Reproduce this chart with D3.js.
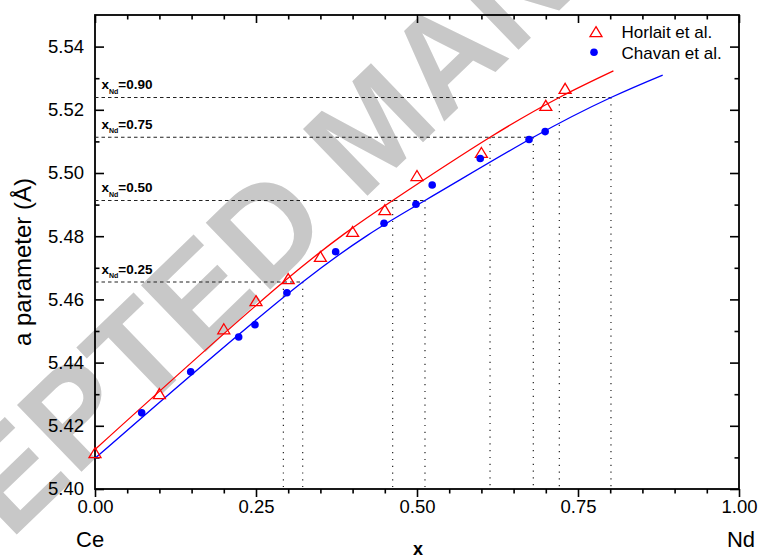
<!DOCTYPE html>
<html>
<head>
<meta charset="utf-8">
<script src="https://cdn.jsdelivr.net/npm/d3@7.9.0/dist/d3.min.js"></script>
<style>
  html, body { margin: 0; padding: 0; background: #fff; }
  svg { display: block; font-family: "Liberation Sans", Arial, sans-serif; }
</style>
</head>
<body>
<svg id="chart" width="759" height="557"></svg>
<script>
// Horlait et al. (open red triangles)
const horlaitX = [0, 0.10, 0.20, 0.25, 0.30, 0.35, 0.40, 0.45, 0.50, 0.60, 0.70, 0.73];
const horlaitA = [5.4115, 5.4302, 5.4507, 5.4596, 5.4666, 5.4736, 5.4815, 5.4884, 5.4992, 5.5065, 5.5214, 5.5268];

// Chavan et al. (filled blue circles)
const chavanX = [0.0725, 0.1486, 0.2231, 0.2484, 0.2980, 0.3737, 0.4488, 0.4984, 0.5236, 0.5982, 0.6740, 0.6990];
const chavanA = [5.4241, 5.4371, 5.4481, 5.4520, 5.4621, 5.4751, 5.4841, 5.4901, 5.4962, 5.5046, 5.5106, 5.5131];

// fitted curves
const horlaitFitX = [0, 0.2925, 0.4622, 0.6134, 0.7210, 0.805];
const horlaitFitA = [5.4125, 5.4655, 5.4913, 5.5113, 5.5239, 5.5323];
const chavanFitX = [0, 0.3225, 0.5124, 0.6806, 0.8012, 0.8815];
const chavanFitA = [5.4097, 5.4655, 5.4913, 5.5113, 5.5239, 5.5310];

// x_Nd guide levels
const levelLabels = ['0.25', '0.50', '0.75', '0.90'];
const levelA = [5.4655, 5.4913, 5.5113, 5.5239];
const levelXRed = [0.2925, 0.4622, 0.6134, 0.7210];
const levelXBlue = [0.3225, 0.5124, 0.6806, 0.8012];

// ticks
const xMajor = [0, 0.25, 0.5, 0.75, 1.0];
const yMajor = [5.40, 5.42, 5.44, 5.46, 5.48, 5.50, 5.52, 5.54];

const svg = d3.select('#chart');
const mLeft = 95, mRight = 739, mTop = 15, mBottom = 489;

const x = d3.scaleLinear().domain([0, 1]).range([mLeft, mRight]);
const y = d3.scaleLinear().domain([5.40, 5.55]).range([mBottom, mTop]);

// watermark
const wm = svg.append('g')
  .attr('transform', 'translate(334,228) rotate(-44)')
  .attr('fill', '#c8c8c8')
  .attr('font-weight', 'bold')
  .attr('font-size', 135);
wm.append('text').attr('text-anchor', 'end').text('ACCEPTED');
wm.append('text').attr('x', 37.5).text('MANUSCRIPT');

// minor tick positions
const xMinor = d3.range(0, 1.0001, 0.05).filter(v => !xMajor.some(m => Math.abs(m - v) < 1e-6));
const yMinor = d3.range(5.40, 5.5501, 0.01).filter(v => !yMajor.some(m => Math.abs(m - v) < 1e-6) && v < 5.5499);

function styleAxis(g) {
  g.select('.domain').remove();
  g.selectAll('line').attr('stroke', '#000').attr('stroke-width', 1.6);
  g.selectAll('text').attr('fill', '#000').attr('font-size', 18.5).attr('font-family', '"Liberation Sans", Arial, sans-serif');
}

// bottom axis (outward ticks, labels)
svg.append('g').attr('transform', `translate(0,${mBottom})`)
  .call(d3.axisBottom(x).tickValues(xMajor).tickSize(8).tickPadding(3).tickFormat(d3.format('.2f')))
  .call(styleAxis);
svg.append('g').attr('transform', `translate(0,${mBottom})`)
  .call(d3.axisBottom(x).tickValues(xMinor).tickSize(4.5).tickFormat(''))
  .call(styleAxis);

// top axis (inward)
svg.append('g').attr('transform', `translate(0,${mTop})`)
  .call(d3.axisTop(x).tickValues(xMajor).tickSize(-8).tickFormat(''))
  .call(styleAxis);
svg.append('g').attr('transform', `translate(0,${mTop})`)
  .call(d3.axisTop(x).tickValues(xMinor).tickSize(-4.5).tickFormat(''))
  .call(styleAxis);

// left axis (inward ticks, labels)
svg.append('g').attr('transform', `translate(${mLeft},0)`)
  .call(d3.axisLeft(y).tickValues(yMajor).tickSize(-9).tickPadding(11).tickFormat(d3.format('.2f')))
  .call(styleAxis);
svg.append('g').attr('transform', `translate(${mLeft},0)`)
  .call(d3.axisLeft(y).tickValues(yMinor).tickSize(-4.5).tickFormat(''))
  .call(styleAxis);

// right axis (inward)
svg.append('g').attr('transform', `translate(${mRight},0)`)
  .call(d3.axisRight(y).tickValues(yMajor).tickSize(-9).tickFormat(''))
  .call(styleAxis);
svg.append('g').attr('transform', `translate(${mRight},0)`)
  .call(d3.axisRight(y).tickValues(yMinor).tickSize(-4.5).tickFormat(''))
  .call(styleAxis);

// frame
svg.append('rect')
  .attr('x', mLeft).attr('y', mTop)
  .attr('width', mRight - mLeft).attr('height', mBottom - mTop)
  .attr('fill', 'none').attr('stroke', '#000').attr('stroke-width', 1.8);

// guide lines
const plot = svg.append('g');
levelA.forEach((a, i) => {
  plot.append('line')
    .attr('x1', x(0)).attr('x2', x(levelXBlue[i]))
    .attr('y1', y(a)).attr('y2', y(a))
    .attr('stroke', '#222').attr('stroke-width', 1.1)
    .attr('stroke-dasharray', '3.5,3');
  [levelXRed[i], levelXBlue[i]].forEach(xv => {
    plot.append('line')
      .attr('x1', x(xv)).attr('x2', x(xv))
      .attr('y1', y(a)).attr('y2', y(5.40) - 2)
      .attr('stroke', '#222').attr('stroke-width', 1.2)
      .attr('stroke-dasharray', '1.2,5.6');
  });
  const t = plot.append('text')
    .attr('x', 101.5).attr('y', y(a) - 8.3)
    .attr('font-weight', 'bold').attr('font-size', 13.5).attr('fill', '#000');
  t.append('tspan').text('x');
  t.append('tspan').attr('font-size', 7).attr('dy', 4.5).text('Nd');
  t.append('tspan').attr('dy', -4.5).text('=' + levelLabels[i]);
});

// fitted curves
const line = d3.line().x(d => x(d[0])).y(d => y(d[1])).curve(d3.curveNatural);
plot.append('path')
  .attr('d', line(d3.zip(horlaitFitX, horlaitFitA)))
  .attr('fill', 'none').attr('stroke', '#ff0000').attr('stroke-width', 1.3);
plot.append('path')
  .attr('d', line(d3.zip(chavanFitX, chavanFitA)))
  .attr('fill', 'none').attr('stroke', '#0000ff').attr('stroke-width', 1.3);

// markers
const tri = 'M0,-5L6,5L-6,5Z';
plot.selectAll('.tri').data(d3.zip(horlaitX, horlaitA)).join('path')
  .attr('class', 'tri')
  .attr('transform', d => `translate(${x(d[0])},${y(d[1])})`)
  .attr('d', tri)
  .attr('fill', 'none').attr('stroke', '#ff0000').attr('stroke-width', 1.3);
plot.selectAll('.dot').data(d3.zip(chavanX, chavanA)).join('circle')
  .attr('class', 'dot')
  .attr('cx', d => x(d[0])).attr('cy', d => y(d[1]))
  .attr('r', 3.8).attr('fill', '#0000ff');

// legend
svg.append('path').attr('transform', 'translate(596,31.7)').attr('d', tri)
  .attr('fill', 'none').attr('stroke', '#ff0000').attr('stroke-width', 1.3);
svg.append('text').attr('x', 621.5).attr('y', 38).attr('font-size', 17).text('Horlait et al.');
svg.append('circle').attr('cx', 594).attr('cy', 52.3).attr('r', 3.8).attr('fill', '#0000ff');
svg.append('text').attr('x', 621.5).attr('y', 59).attr('font-size', 17).text('Chavan et al.');

// axis titles
svg.append('text')
  .attr('transform', 'translate(31,262) rotate(-90)')
  .attr('text-anchor', 'middle').attr('font-size', 24)
  .text('a parameter (Å)');
svg.append('text').attr('x', 418).attr('y', 555).attr('text-anchor', 'middle')
  .attr('font-weight', 'bold').attr('font-size', 18).text('x');
svg.append('text').attr('x', 76).attr('y', 547).attr('font-size', 22).text('Ce');
svg.append('text').attr('x', 755).attr('y', 547).attr('text-anchor', 'end').attr('font-size', 22).text('Nd');
</script>
</body>
</html>
